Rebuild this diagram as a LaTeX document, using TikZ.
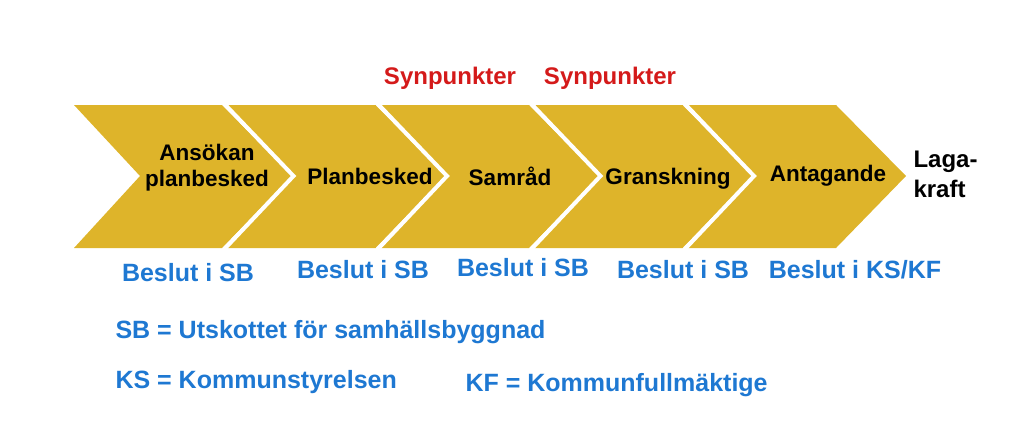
\documentclass[tikz,border=0pt]{standalone}
\usepackage{fontspec}
\setmainfont{Liberation Sans}
\definecolor{gold}{HTML}{DEB42A}
\definecolor{bl}{HTML}{1E78D2}
\definecolor{rd}{HTML}{D41A1A}
\begin{document}
\begin{tikzpicture}[x=1pt,y=-1pt,
  lab/.style={font=\bfseries\fontsize{22.5}{26}\selectfont,align=center},
  blu/.style={font=\bfseries\fontsize{25}{28}\selectfont,text=bl},
  red/.style={font=\bfseries\fontsize{24}{28}\selectfont,text=rd}]
\useasboundingbox (0,0) rectangle (1024,447);
\foreach \i in {0,...,4}{
  \pgfmathsetmacro\xo{74+153.5*\i}
  \fill[gold] (\xo,105) -- (\xo+148,105) -- (\xo+218,176) -- (\xo+148,248) -- (\xo,248) -- (\xo+66,176) -- cycle;
}
\foreach \i in {1,...,4}{
  \pgfmathsetmacro\xo{74+153.5*\i}
  \draw[white,line width=4pt,line join=miter] (\xo-2,105) -- (\xo+66,176) -- (\xo-2,248);
}
\node[lab] (c1) at (207,168) {Ansökan\\planbesked};
\node[lab] (c2) at (370,176) {Planbesked};
\node[lab] (c3) at (510,176) {Samråd};
\node[lab] (c4) at (668,179) {Granskning};
\node[lab] (c5) at (828,176) {Antagande};
\node[lab,align=left,anchor=west,font=\bfseries\fontsize{24}{30}\selectfont] (lk) at (910,174) {Laga-\\kraft};
\node[red] (s1) at (450,78) {Synpunkter};
\node[red] (s2) at (610,78) {Synpunkter};
\node[blu] (b1) at (188,273) {Beslut i SB};
\node[blu] (b2) at (363,270) {Beslut i SB};
\node[blu] (b3) at (523,268) {Beslut i SB};
\node[blu] (b4) at (683,270) {Beslut i SB};
\node[blu] (b5) at (855,270) {Beslut i KS/KF};
\node[blu,anchor=west] (d1) at (112,332) {SB = Utskottet för samhällsbyggnad};
\node[blu,anchor=west] (d2) at (112,382) {KS = Kommunstyrelsen};
\node[blu,anchor=west] (d3) at (462,385) {KF = Kommunfullmäktige};
\end{tikzpicture}
\end{document}
